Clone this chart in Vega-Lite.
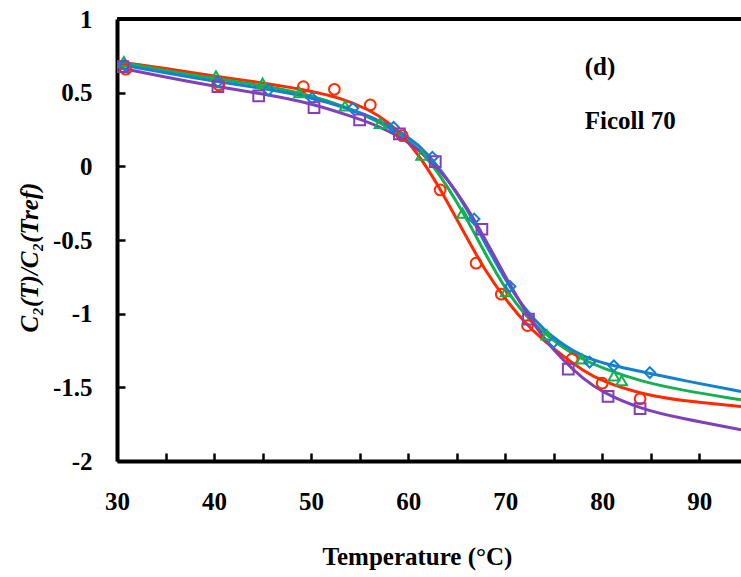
{
  "$schema": "https://vega.github.io/schema/vega-lite/v6.json",
  "width": 624,
  "height": 442,
  "autosize": {"type": "none"},
  "padding": {"left": 117, "top": 19, "right": 0, "bottom": 116},
  "background": "white",
  "config": {
    "view": {"stroke": null},
    "font": "Liberation Serif",
    "axis": {
      "grid": false,
      "domainColor": "black",
      "domainWidth": 4,
      "tickColor": "black",
      "tickWidth": 2.5,
      "tickSize": -8,
      "labelFont": "Liberation Serif",
      "labelFontWeight": "bold",
      "labelFontSize": 25,
      "labelColor": "black",
      "titleFont": "Liberation Serif",
      "titleFontWeight": "bold",
      "titleFontSize": 25,
      "titleColor": "black"
    }
  },
  "datasets": {
    "points": [
      {"series": "A", "T": 30.9, "C": 0.659},
      {"series": "A", "T": 40.5, "C": 0.552},
      {"series": "A", "T": 49.2, "C": 0.541},
      {"series": "A", "T": 52.4, "C": 0.523},
      {"series": "A", "T": 56.1, "C": 0.417},
      {"series": "A", "T": 59.4, "C": 0.208},
      {"series": "A", "T": 63.3, "C": -0.16},
      {"series": "A", "T": 67.0, "C": -0.657},
      {"series": "A", "T": 69.6, "C": -0.868},
      {"series": "A", "T": 72.3, "C": -1.081},
      {"series": "A", "T": 76.9, "C": -1.307},
      {"series": "A", "T": 80.0, "C": -1.472},
      {"series": "A", "T": 83.9, "C": -1.578},
      {"series": "B", "T": 30.7, "C": 0.71},
      {"series": "B", "T": 40.2, "C": 0.613},
      {"series": "B", "T": 45.0, "C": 0.564},
      {"series": "B", "T": 48.8, "C": 0.5},
      {"series": "B", "T": 53.5, "C": 0.41},
      {"series": "B", "T": 57.1, "C": 0.292},
      {"series": "B", "T": 61.4, "C": 0.077},
      {"series": "B", "T": 65.6, "C": -0.318},
      {"series": "B", "T": 70.1, "C": -0.85},
      {"series": "B", "T": 74.3, "C": -1.144},
      {"series": "B", "T": 77.9, "C": -1.307},
      {"series": "B", "T": 81.2, "C": -1.422},
      {"series": "B", "T": 82.0, "C": -1.454},
      {"series": "C", "T": 30.8, "C": 0.688},
      {"series": "C", "T": 40.4, "C": 0.575},
      {"series": "C", "T": 45.6, "C": 0.518},
      {"series": "C", "T": 50.1, "C": 0.462},
      {"series": "C", "T": 54.3, "C": 0.394},
      {"series": "C", "T": 58.5, "C": 0.265},
      {"series": "C", "T": 62.5, "C": 0.062},
      {"series": "C", "T": 66.8, "C": -0.357},
      {"series": "C", "T": 70.5, "C": -0.816},
      {"series": "C", "T": 75.0, "C": -1.193},
      {"series": "C", "T": 78.7, "C": -1.329},
      {"series": "C", "T": 81.2, "C": -1.354},
      {"series": "C", "T": 84.9, "C": -1.4},
      {"series": "D", "T": 30.6, "C": 0.676},
      {"series": "D", "T": 40.4, "C": 0.541},
      {"series": "D", "T": 44.6, "C": 0.478},
      {"series": "D", "T": 50.3, "C": 0.398},
      {"series": "D", "T": 55.0, "C": 0.315},
      {"series": "D", "T": 59.1, "C": 0.22},
      {"series": "D", "T": 62.8, "C": 0.032},
      {"series": "D", "T": 67.6, "C": -0.427},
      {"series": "D", "T": 72.4, "C": -1.037},
      {"series": "D", "T": 76.5, "C": -1.377},
      {"series": "D", "T": 80.6, "C": -1.562},
      {"series": "D", "T": 83.9, "C": -1.644}
    ],
    "curves": [
      {"series": "A", "T": 30, "C": 0.71},
      {"series": "A", "T": 35, "C": 0.665},
      {"series": "A", "T": 40, "C": 0.612},
      {"series": "A", "T": 45, "C": 0.568},
      {"series": "A", "T": 50, "C": 0.512},
      {"series": "A", "T": 53, "C": 0.465},
      {"series": "A", "T": 56, "C": 0.385},
      {"series": "A", "T": 58, "C": 0.3},
      {"series": "A", "T": 60, "C": 0.17},
      {"series": "A", "T": 62, "C": -0.01},
      {"series": "A", "T": 64, "C": -0.235},
      {"series": "A", "T": 66, "C": -0.48},
      {"series": "A", "T": 68, "C": -0.715},
      {"series": "A", "T": 70, "C": -0.9},
      {"series": "A", "T": 72, "C": -1.06},
      {"series": "A", "T": 74, "C": -1.185},
      {"series": "A", "T": 76, "C": -1.29},
      {"series": "A", "T": 78, "C": -1.385},
      {"series": "A", "T": 80, "C": -1.46},
      {"series": "A", "T": 84, "C": -1.545},
      {"series": "A", "T": 88, "C": -1.59},
      {"series": "A", "T": 94.3, "C": -1.63},
      {"series": "B", "T": 30, "C": 0.71},
      {"series": "B", "T": 35, "C": 0.65},
      {"series": "B", "T": 40, "C": 0.596},
      {"series": "B", "T": 45, "C": 0.55},
      {"series": "B", "T": 50, "C": 0.482},
      {"series": "B", "T": 53.4, "C": 0.41},
      {"series": "B", "T": 57, "C": 0.303},
      {"series": "B", "T": 60, "C": 0.185},
      {"series": "B", "T": 62, "C": 0.055},
      {"series": "B", "T": 64, "C": -0.13},
      {"series": "B", "T": 66, "C": -0.35},
      {"series": "B", "T": 68, "C": -0.6},
      {"series": "B", "T": 70, "C": -0.83},
      {"series": "B", "T": 72, "C": -1.01},
      {"series": "B", "T": 74, "C": -1.13},
      {"series": "B", "T": 76, "C": -1.235},
      {"series": "B", "T": 78, "C": -1.31},
      {"series": "B", "T": 80, "C": -1.37},
      {"series": "B", "T": 84, "C": -1.46},
      {"series": "B", "T": 88, "C": -1.517},
      {"series": "B", "T": 94.3, "C": -1.585},
      {"series": "C", "T": 30, "C": 0.695},
      {"series": "C", "T": 35, "C": 0.635},
      {"series": "C", "T": 40, "C": 0.578},
      {"series": "C", "T": 45, "C": 0.53},
      {"series": "C", "T": 50, "C": 0.469},
      {"series": "C", "T": 54, "C": 0.39},
      {"series": "C", "T": 57, "C": 0.315},
      {"series": "C", "T": 60, "C": 0.205},
      {"series": "C", "T": 62, "C": 0.09},
      {"series": "C", "T": 64, "C": -0.08},
      {"series": "C", "T": 66, "C": -0.28},
      {"series": "C", "T": 68, "C": -0.53},
      {"series": "C", "T": 70, "C": -0.77},
      {"series": "C", "T": 72, "C": -0.97},
      {"series": "C", "T": 74, "C": -1.11},
      {"series": "C", "T": 76, "C": -1.215},
      {"series": "C", "T": 78, "C": -1.29},
      {"series": "C", "T": 80, "C": -1.336},
      {"series": "C", "T": 84, "C": -1.393},
      {"series": "C", "T": 88, "C": -1.449},
      {"series": "C", "T": 94.3, "C": -1.528},
      {"series": "D", "T": 30, "C": 0.672},
      {"series": "D", "T": 35, "C": 0.605},
      {"series": "D", "T": 40, "C": 0.543},
      {"series": "D", "T": 45, "C": 0.493},
      {"series": "D", "T": 50, "C": 0.428},
      {"series": "D", "T": 54, "C": 0.343},
      {"series": "D", "T": 57, "C": 0.274},
      {"series": "D", "T": 60, "C": 0.17},
      {"series": "D", "T": 62, "C": 0.06},
      {"series": "D", "T": 64, "C": -0.08},
      {"series": "D", "T": 66, "C": -0.27},
      {"series": "D", "T": 68, "C": -0.5},
      {"series": "D", "T": 70, "C": -0.745},
      {"series": "D", "T": 72, "C": -0.98},
      {"series": "D", "T": 74, "C": -1.17},
      {"series": "D", "T": 76, "C": -1.32},
      {"series": "D", "T": 78, "C": -1.44},
      {"series": "D", "T": 80, "C": -1.535},
      {"series": "D", "T": 84, "C": -1.648},
      {"series": "D", "T": 88, "C": -1.709},
      {"series": "D", "T": 94.3, "C": -1.788}
    ],
    "labels": [
      {"T": 78.2, "C": 0.676, "text": "(d)"},
      {"T": 78.2, "C": 0.31, "text": "Ficoll 70"}
    ],
    "frame": [{"C": 1}]
  },
  "layer": [
    {
      "data": {"name": "frame"},
      "mark": {"type": "rule", "color": "black", "strokeWidth": 4},
      "encoding": {
        "y": {"field": "C", "type": "quantitative", "scale": {"domain": [-2, 1]}}
      }
    },
    {
      "data": {"name": "curves"},
      "mark": {"type": "line", "strokeWidth": 3, "interpolate": "basis", "clip": true},
      "encoding": {
        "x": {
          "field": "T", "type": "quantitative",
          "scale": {"domain": [30, 94.3], "nice": false, "zero": false},
          "axis": {
            "title": "Temperature (°C)",
            "values": [30, 35, 40, 45, 50, 55, 60, 65, 70, 75, 80, 85, 90],
            "labelExpr": "datum.value % 10 === 0 ? toString(datum.value) : ''",
            "labelPadding": 36,
            "labelFlush": false,
            "titleBaseline": "middle",
            "titleX": 300,
            "titleY": 95
          }
        },
        "y": {
          "field": "C", "type": "quantitative",
          "scale": {"domain": [-2, 1], "nice": false, "zero": false},
          "axis": {
            "title": "C₂(T)/C₂(Tref)",
            "titleFontStyle": "italic",
            "values": [-2, -1.5, -1, -0.5, 0, 0.5, 1],
            "labelExpr": "toString(datum.value)",
            "labelPadding": 33,
            "titleAngle": -90,
            "titleBaseline": "middle",
            "titleX": -88,
            "titleY": 238
          }
        },
        "color": {
          "field": "series", "type": "nominal",
          "scale": {"domain": ["A", "B", "C", "D"], "range": ["#ff2a00", "#16b050", "#1580d0", "#8040b8"]},
          "legend": null
        },
        "detail": {"field": "series"}
      }
    },
    {
      "data": {"name": "points"},
      "mark": {"type": "point", "filled": false, "size": 115, "strokeWidth": 2, "opacity": 1, "clip": true},
      "encoding": {
        "x": {"field": "T", "type": "quantitative"},
        "y": {"field": "C", "type": "quantitative"},
        "color": {"field": "series", "type": "nominal", "legend": null},
        "shape": {
          "field": "series", "type": "nominal",
          "scale": {"domain": ["A", "B", "C", "D"], "range": ["circle", "triangle-up", "diamond", "square"]},
          "legend": null
        }
      }
    },
    {
      "data": {"name": "labels"},
      "mark": {"type": "text", "align": "left", "baseline": "middle", "font": "Liberation Serif", "fontWeight": "bold", "fontSize": 25, "color": "black"},
      "encoding": {
        "x": {"field": "T", "type": "quantitative"},
        "y": {"field": "C", "type": "quantitative"},
        "text": {"field": "text"}
      }
    }
  ]
}
